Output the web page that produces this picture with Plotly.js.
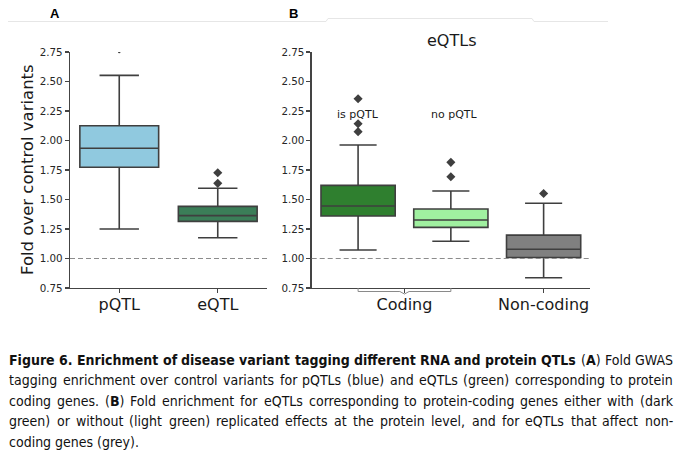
<!DOCTYPE html>
<html>
<head>
<meta charset="utf-8">
<script src="https://cdn.plot.ly/plotly-3.0.1.min.js"></script>
<style>html,body{margin:0;padding:0;background:#fff;}#chart{width:680px;height:459px;}</style>
</head>
<body>
<div id="chart"></div>
<script>
// ---------- Panel A data ----------
const catsA = ['pQTL', 'eQTL'];
const colorsA = ['#90c9df', '#3b7e58'];
const q1A = [1.773, 1.315];
const medA = [1.934, 1.363];
const q3A = [2.125, 1.442];
const loA = [1.250, 1.176];
const hiA = [2.552, 1.595];
const outA = [[2.75], [1.637, 1.727]];

// ---------- Panel B data ----------
const groupsB = ['is pQTL', 'no pQTL', 'Non-coding'];
const colorsB = ['#2f7f2f', '#a0f0a0', '#808080'];
const q1B = [1.360, 1.264, 1.009];
const medB = [1.445, 1.326, 1.078];
const q3B = [1.620, 1.419, 1.198];
const loB = [1.072, 1.146, 0.837];
const hiB = [1.962, 1.572, 1.468];
const outB = [[2.075, 2.142, 2.354], [1.693, 1.815], [1.551]];
const tickTextB = ['Coding', 'Non-coding'];
const tickPosB = [0.5, 2];

const yTicks = [0.75, 1.00, 1.25, 1.50, 1.75, 2.00, 2.25, 2.50, 2.75];
const refLine = 1.0;

// ---------- Caption ----------
const captionLines = [
  '<b>Figure 6. Enrichment of disease variant tagging different RNA and protein QTLs</b> (<b>A</b>) Fold GWAS',
  'tagging enrichment over control variants for pQTLs (blue) and eQTLs (green) corresponding to protein',
  'coding genes. (<b>B</b>) Fold enrichment for eQTLs corresponding to protein-coding genes either with (dark',
  'green) or without (light green) replicated effects at the protein level, and for eQTLs that affect non-',
  'coding genes (grey).'
];

const W = 680, H = 459;
const px = v => v / W;
const py = v => 1 - v / H;

const LINE = '#3f3f3f';
const traces = [];

catsA.forEach((c, i) => {
  traces.push({
    type: 'box', xaxis: 'x', yaxis: 'y', x: [i], name: c,
    q1: [q1A[i]], median: [medA[i]], q3: [q3A[i]],
    lowerfence: [loA[i]], upperfence: [hiA[i]],
    width: 0.8, whiskerwidth: 0.5, boxpoints: false,
    fillcolor: colorsA[i], line: {color: LINE, width: 1.6},
    hoverinfo: 'skip'
  });
  traces.push({
    type: 'scatter', mode: 'markers', xaxis: 'x', yaxis: 'y',
    x: outA[i].map(() => i), y: outA[i],
    marker: {symbol: i === 0 ? 'circle' : 'diamond', size: i === 0 ? 2.5 : 7, color: LINE},
    hoverinfo: 'skip'
  });
});

groupsB.forEach((g, i) => {
  traces.push({
    type: 'box', xaxis: 'x2', yaxis: 'y2', x: [i], name: g,
    q1: [q1B[i]], median: [medB[i]], q3: [q3B[i]],
    lowerfence: [loB[i]], upperfence: [hiB[i]],
    width: 0.8, whiskerwidth: 0.5, boxpoints: false,
    fillcolor: colorsB[i], line: {color: LINE, width: 1.6},
    hoverinfo: 'skip'
  });
  traces.push({
    type: 'scatter', mode: 'markers', xaxis: 'x2', yaxis: 'y2',
    x: outB[i].map(() => i), y: outB[i],
    marker: {symbol: 'diamond', size: 7, color: LINE},
    hoverinfo: 'skip'
  });
});

const yDom = [py(288), py(52)];
const tickFont = {family: 'DejaVu Sans', size: 10.3, color: '#262626'};
const catFont = {family: 'DejaVu Sans', size: 16, color: '#1a1a1a'};
const axisCommon = {
  showline: true, linecolor: '#444', linewidth: 1.3,
  ticks: 'outside', ticklen: 4, tickwidth: 1.2, tickcolor: '#444',
  showgrid: false, zeroline: false, fixedrange: true
};

function label(x, y, text, font, extra) {
  return Object.assign({xref: 'paper', yref: 'paper', x: px(x), y: py(y), text: text,
    xanchor: 'center', yanchor: 'middle', showarrow: false, font: font}, extra || {});
}

const annotations = [
  label(27, 170, 'Fold over control variants', {family: 'DejaVu Sans', size: 16.5, color: '#1a1a1a'}, {textangle: -90}),
  label(451, 40, 'eQTLs', {family: 'DejaVu Sans', size: 16, color: '#1a1a1a'}),
  Object.assign(label(0, 114, groupsB[0], {family: 'DejaVu Sans', size: 11, color: '#1a1a1a'}), {xref: 'x2', x: 0}),
  Object.assign(label(0, 114, groupsB[1], {family: 'DejaVu Sans', size: 11, color: '#1a1a1a'}), {xref: 'x2', x: 1.04}),
  label(55, 14, '<b>A</b>', {family: 'Liberation Sans', size: 13, color: '#000'}),
  label(293, 14, '<b>B</b>', {family: 'Liberation Sans', size: 13, color: '#000'})
];

// caption: justified, word by word
const canvas = document.createElement('canvas');
const ctx = canvas.getContext('2d');
function fontAvailable(name) {
  const probe = 'abcdefghijklmnopqrstuvwxyz ABCDEFGHIJ';
  ctx.font = '20px "' + name + '", monospace';
  const a = ctx.measureText(probe).width;
  ctx.font = '20px monospace';
  const b = ctx.measureText(probe).width;
  ctx.font = '20px "' + name + '", serif';
  const c = ctx.measureText(probe).width;
  ctx.font = '20px serif';
  const d = ctx.measureText(probe).width;
  return Math.abs(a - b) > 0.5 && Math.abs(c - d) > 0.5;
}
const candidates = ['Liberation Sans Narrow', 'Arial Narrow', 'DejaVu Sans Condensed', 'Roboto Condensed', 'Liberation Sans'];
let capFam = 'Liberation Sans';
for (const f of candidates) { if (fontAvailable(f)) { capFam = f; break; } }
const capFamCss = '"' + capFam + '"';

function parseLine(line, state) {
  return line.split(/ +/).map(w => {
    const segs = [];
    w.split(/(<\/?b>)/).filter(s => s.length).forEach(p => {
      if (p === '<b>') state.bold = true;
      else if (p === '</b>') state.bold = false;
      else segs.push({t: p, b: state.bold});
    });
    return segs;
  });
}
function wordWidth(segs, size) {
  let s = 0;
  segs.forEach(g => {
    ctx.font = (g.b ? 'bold ' : '') + size + 'px ' + capFamCss;
    s += ctx.measureText(g.t).width;
  });
  return s;
}
const capLeft = 8, capRight = 672;
const capY = [359.5, 380, 400.5, 421, 441.5];
const parsed = (() => { const st = {bold: false}; return captionLines.map(l => parseLine(l, st)); })();
// choose the largest size (<=14) where every justified line fits with at least 0.9 of a normal space
let capSize = 14;
(function () {
  ctx.font = '100px ' + capFamCss;
  const sp100 = ctx.measureText(' ').width;
  parsed.forEach((words, li) => {
    if (li === parsed.length - 1) return;
    const tot = words.reduce((a, w) => a + wordWidth(w, 100), 0) + 0.9 * sp100 * (words.length - 1);
    capSize = Math.min(capSize, 100 * (capRight - capLeft) / tot);
  });
})();
ctx.font = capSize + 'px ' + capFamCss;
const spaceW = ctx.measureText(' ').width;
parsed.forEach((words, li) => {
  const widths = words.map(w => wordWidth(w, capSize));
  const total = widths.reduce((a, b) => a + b, 0);
  const last = li === parsed.length - 1;
  const gap = last ? spaceW : (capRight - capLeft - total) / (words.length - 1);
  let x = capLeft;
  words.forEach((segs, wi) => {
    annotations.push({
      xref: 'paper', yref: 'paper', x: px(x), y: py(capY[li]), xanchor: 'left', yanchor: 'middle',
      text: segs.map(g => g.b ? '<b>' + g.t + '</b>' : g.t).join(''),
      showarrow: false, borderpad: 0,
      font: {family: capFam, size: capSize, color: '#111'}
    });
    x += widths[wi] + gap;
  });
});

function pathPaper(pts) {
  return pts.map((p, i) => (i ? 'L' : 'M') + px(p[0]).toFixed(5) + ',' + py(p[1]).toFixed(5)).join(' ');
}

const shapes = [
  {type: 'line', xref: 'x domain', yref: 'y', x0: 0, x1: 1, y0: refLine, y1: refLine,
   line: {color: '#8c8c8c', width: 1.1, dash: '5px,3px'}},
  {type: 'line', xref: 'x2 domain', yref: 'y2', x0: 0, x1: 1, y0: refLine, y1: refLine,
   line: {color: '#8c8c8c', width: 1.1, dash: '5px,3px'}},
  {type: 'path', xref: 'paper', yref: 'paper',
   path: pathPaper([[8, 21.5], [326, 21.5], [328, 18.5], [532, 18.5], [534, 21.5], [608, 21.5]]),
   line: {color: '#e6e6e6', width: 1}},
  {type: 'path', xref: 'x2', yref: 'paper',
   path: 'M0,' + py(288) + ' L0,' + py(291.5) + ' L0.45,' + py(291.5) + ' L0.5,' + py(294) +
         ' L0.55,' + py(291.5) + ' L1,' + py(291.5) + ' L1,' + py(288),
   line: {color: '#8a8a8a', width: 1}}
];

const layout = {
  width: W, height: H, margin: {l: 0, r: 0, t: 0, b: 0},
  paper_bgcolor: '#fff', plot_bgcolor: '#fff', showlegend: false,
  xaxis: Object.assign({}, axisCommon, {
    domain: [px(70), px(267)], range: [-0.5, 1.5], anchor: 'y',
    tickvals: catsA.map((c, i) => i), ticktext: catsA, tickfont: catFont, ticklabelstandoff: -3
  }),
  yaxis: Object.assign({}, axisCommon, {
    domain: yDom, range: [0.75, 2.75], anchor: 'x',
    tickvals: yTicks, tickformat: '.2f', tickfont: tickFont
  }),
  xaxis2: Object.assign({}, axisCommon, {
    domain: [px(311.7), px(590)], range: [-0.5, 2.5], anchor: 'y2',
    tickvals: tickPosB, ticktext: tickTextB, tickfont: catFont, ticklabelstandoff: -3
  }),
  yaxis2: Object.assign({}, axisCommon, {
    domain: yDom, range: [0.75, 2.75], anchor: 'x2',
    tickvals: yTicks, tickformat: '.2f', tickfont: tickFont
  }),
  annotations: annotations,
  shapes: shapes
};

Plotly.newPlot('chart', traces, layout, {displayModeBar: false, staticPlot: true});
</script>
</body>
</html>
